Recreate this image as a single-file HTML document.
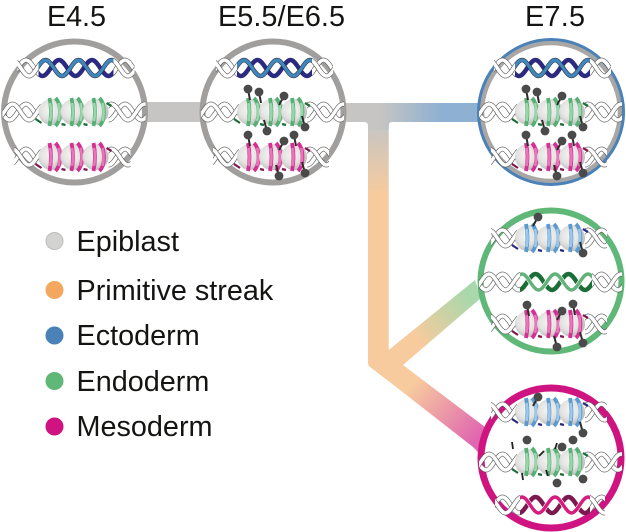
<!DOCTYPE html>
<html><head><meta charset="utf-8">
<style>
html,body{margin:0;padding:0;background:#fff;width:626px;height:532px;overflow:hidden}
svg{display:block}
text{font-family:"Liberation Sans",Arial,sans-serif;fill:#141412;font-size:28.8px}
.o{fill:none;stroke:#555;stroke-width:4.8}
.w{fill:none;stroke:#fff;stroke-width:3.6}
.wa{fill:none;stroke:var(--d);stroke-width:3.8}
.wb{fill:none;stroke:var(--l);stroke-width:2.6}
.lk{fill:none;stroke:var(--k);stroke-width:2.2}
</style></head><body>
<svg width="626" height="532" viewBox="0 0 626 532" xmlns="http://www.w3.org/2000/svg">
<defs>
<path id="hA" d="M-95,-8c6,0 10.5,16 16.5,16s10.5,-16 16.5,-16s10.5,16 16.5,16s10.5,-16 16.5,-16s10.5,16 16.5,16s10.5,-16 16.5,-16s10.5,16 16.5,16s10.5,-16 16.5,-16s10.5,16 16.5,16s10.5,-16 16.5,-16s10.5,16 16.5,16s10.5,-16 16.5,-16"/>
<path id="hB" d="M-98,8c6,0 10.5,-16 16.5,-16s10.5,16 16.5,16s10.5,-16 16.5,-16s10.5,16 16.5,16s10.5,-16 16.5,-16s10.5,16 16.5,16s10.5,-16 16.5,-16s10.5,16 16.5,16s10.5,-16 16.5,-16s10.5,16 16.5,16s10.5,-16 16.5,-16s10.5,16 16.5,16"/>
<g id="wh"><use href="#hB" class="o"/><use href="#hB" class="w"/><use href="#hA" class="o"/><use href="#hA" class="w"/></g>
<clipPath id="c1"><rect x="-57" y="-14" width="21" height="28"/><rect x="39" y="-14" width="21" height="28"/></clipPath>
<clipPath id="c2"><rect x="-72" y="-14" width="38" height="28"/><rect x="34" y="-14" width="37" height="28"/></clipPath>
<clipPath id="c3"><rect x="-60" y="-14" width="26" height="28"/><rect x="34" y="-14" width="22" height="28"/></clipPath>
<clipPath id="c4"><rect x="-72" y="-14" width="41" height="28"/><rect x="41" y="-14" width="30" height="28"/></clipPath>
<clipPath id="c5"><rect x="-56" y="-14" width="25" height="28"/><rect x="39" y="-14" width="15" height="28"/></clipPath>
<clipPath id="k1"><rect x="-36" y="-14" width="75" height="28"/></clipPath>
<clipPath id="k2"><rect x="-31" y="-14" width="72" height="28"/></clipPath>
<clipPath id="k3"><rect x="-31" y="-14" width="70" height="28"/></clipPath>
<g id="r2"><g clip-path="url(#c2)"><use href="#wh"/></g></g>
<g id="r3"><g clip-path="url(#c3)"><use href="#wh"/></g></g>
<g id="dBlue">
<g clip-path="url(#c1)"><use href="#wh"/></g>
<g clip-path="url(#k1)" fill="none"><use href="#hB" stroke="#2b2a80" stroke-width="4.4"/><use href="#hA" stroke="#27272f" stroke-width="4.4"/><use href="#hA" stroke="#3f87bd" stroke-width="3.4"/></g>
</g>
<g id="dGreen">
<g clip-path="url(#c4)"><use href="#wh"/></g>
<g clip-path="url(#k2)" fill="none"><use href="#hB" stroke="#1c6e38" stroke-width="4.4"/><use href="#hA" stroke="#fff" stroke-width="4.6"/><use href="#hA" stroke="#62b27a" stroke-width="3.4"/></g>
</g>
<g id="dPink">
<g clip-path="url(#c5)"><use href="#wh"/></g>
<g clip-path="url(#k3)" fill="none"><use href="#hB" stroke="#7c1a50" stroke-width="4.4"/><use href="#hA" stroke="#fff" stroke-width="4.6"/><use href="#hA" stroke="#d81b7f" stroke-width="3.4"/></g>
</g>
<radialGradient id="bg" cx="42%" cy="42%" r="62%"><stop offset="0" stop-color="#f4f4f3"/><stop offset=".55" stop-color="#e3e3e1"/><stop offset="1" stop-color="#b9b9b7"/></radialGradient>
<circle id="ball" r="13" fill="url(#bg)"/>
<g id="wr">
<path class="wa" d="M-2,-14Q1,0 -2,14M4,-14C10,-8 10,8 4,14"/>
<path class="wb" d="M-1.5,-9Q0.5,0 -1.5,9M7,-9C8.4,-5 8.4,5 7,9"/>
</g>
<g id="nuc">
<path class="lk" d="M-39,7L-33,11M-13,12L-9,13M9,12L13,13M32,-9L37,-6"/>
<use href="#ball" x="-23"/><use href="#wr" x="-23"/>
<use href="#ball" x="-1"/><use href="#wr" x="-1"/>
<use href="#ball" x="21"/><use href="#wr" x="21"/>
</g>
<g id="nG" style="--d:#55b074;--l:#98d6ac;--k:#1c6e38"><use href="#nuc"/></g>
<g id="nP" style="--d:#d62f93;--l:#ec74b8;--k:#7c1a50"><use href="#nuc"/></g>
<g id="nB" style="--d:#5a9ad0;--l:#9cc8ea;--k:#2b2a80"><use href="#nuc"/></g>
<g id="mD"><path d="M0,0L2,11" stroke="#2c2c2c" stroke-width="2"/><circle r="4.4" fill="#4b4a4a"/></g>
<g id="mU"><path d="M0,0L-3,-11" stroke="#2c2c2c" stroke-width="2"/><circle r="4.4" fill="#4b4a4a"/></g>
<g id="mL"><path d="M0,0L-5,9" stroke="#2c2c2c" stroke-width="2"/><circle r="4.4" fill="#4b4a4a"/></g>
<g id="mS"><circle r="4.4" fill="#4b4a4a"/></g>
<g id="mk">
<use href="#mD" x="-25" y="-23"/><use href="#mD" x="-14" y="-20"/><use href="#mL" x="11" y="-16"/>
<use href="#mU" x="-6" y="19"/><use href="#mU" x="32" y="15"/>
<use href="#mD" x="-25" y="23"/><use href="#mD" x="21" y="23"/><use href="#mL" x="11" y="29"/>
<use href="#mU" x="6" y="64"/><use href="#mU" x="32" y="61"/>
</g>
<linearGradient id="g1" gradientUnits="userSpaceOnUse" x1="380" y1="0" x2="442" y2="0"><stop offset="0" stop-color="#c6c5c3"/><stop offset="1" stop-color="#8db0d3"/></linearGradient>
<linearGradient id="g2" gradientUnits="userSpaceOnUse" x1="0" y1="125" x2="0" y2="195"><stop offset="0" stop-color="#c6c5c3"/><stop offset="1" stop-color="#f7cb9d"/></linearGradient>
<linearGradient id="g3" gradientUnits="userSpaceOnUse" x1="415" y1="335" x2="468" y2="295"><stop offset="0" stop-color="#f7cb9d"/><stop offset="1" stop-color="#a8d8ab"/></linearGradient>
<linearGradient id="g4" gradientUnits="userSpaceOnUse" x1="412" y1="385" x2="478" y2="438"><stop offset="0" stop-color="#f7cb9d"/><stop offset="1" stop-color="#e066b0"/></linearGradient>
</defs>

<rect x="140" y="102" width="64" height="20" fill="#c6c5c3"/>
<path d="M388.7,350L475,280L481,298L403,365L395,370Z" fill="url(#g3)"/>
<path d="M368,365L403,365L485,427L478,452L473,447Z" fill="url(#g4)"/>
<path d="M368,120H388.7V350L403,365V392L370,367Q368,365 368,363Z" fill="url(#g2)"/>
<path d="M342,103H482V122H392Q388.7,122 388.7,126V130H368V126Q368,122 364,122H342Z" fill="url(#g1)"/>

<text x="47" y="26" textLength="59">E4.5</text>
<text x="218" y="26" textLength="127">E5.5/E6.5</text>
<text x="525" y="26" textLength="60">E7.5</text>

<g transform="translate(74.5,112)">
<circle r="70.5" fill="#fff" stroke="#a19f9e" stroke-width="6"/>
<use href="#dBlue" y="-44"/><use href="#r2"/><use href="#nG"/><use href="#r3" y="45"/><use href="#nP" y="45"/>
</g>
<g transform="translate(273,112)">
<circle r="70.5" fill="#fff" stroke="#a19f9e" stroke-width="6"/>
<use href="#dBlue" y="-44"/><use href="#r2"/><use href="#nG"/><use href="#r3" y="45"/><use href="#nP" y="45"/><use href="#mk"/>
</g>
<g transform="translate(551,112)">
<circle r="69" fill="#fff" stroke="#a9a7a6" stroke-width="4.5"/>
<circle r="72.5" fill="none" stroke="#4a82b8" stroke-width="3"/>
<use href="#dBlue" y="-44"/><use href="#r2"/><use href="#nG"/><use href="#r3" y="45"/><use href="#nP" y="45"/><use href="#mk"/>
</g>
<g transform="translate(551,281)">
<circle r="70.5" fill="#fff" stroke="#5fb878" stroke-width="6"/>
<use href="#r3" y="-43"/><use href="#nB" y="-43"/><use href="#dGreen" y="1"/><use href="#r3" y="43"/><use href="#nP" y="43"/>
<use href="#mL" x="-13" y="-64"/><use href="#mU" x="32" y="-28"/>
<use href="#mD" x="-24" y="24"/><use href="#mD" x="22" y="23"/><use href="#mL" x="11" y="30"/><use href="#mU" x="6" y="66"/><use href="#mU" x="32" y="62"/>
</g>
<g transform="translate(551,458)">
<circle r="70" fill="#fff" stroke="#cf1482" stroke-width="7"/>
<use href="#r3" y="-46"/><use href="#nB" y="-46"/><use href="#r2" y="4"/><use href="#nG" y="4"/><use href="#dPink" y="47"/>
<use href="#mL" x="-13" y="-61"/><use href="#mU" x="32" y="-25"/>
<use href="#mS" x="-24" y="-18"/><use href="#mS" x="22" y="-18"/><use href="#mS" x="11" y="-11"/><use href="#mS" x="6" y="25"/><use href="#mS" x="32" y="21"/>
<path d="M-39,-16L-38,-9M-29,15L-28,22M-7,-7L-12,-2M6,-15L4,-9M-5,12L-3,18" stroke="#222" stroke-width="1.8" fill="none"/>
</g>

<circle cx="54.5" cy="241" r="8.5" fill="#d3d3d1" stroke="#bdbdbb" stroke-width="1"/>
<circle cx="54.5" cy="290" r="9" fill="#f4a75e"/>
<circle cx="54.5" cy="335.5" r="9" fill="#4a82b8"/>
<circle cx="54.5" cy="381" r="9" fill="#5fb878"/>
<circle cx="54.5" cy="426.5" r="9" fill="#cf1482"/>
<text x="76.5" y="251">Epiblast</text>
<text x="76.5" y="300">Primitive streak</text>
<text x="76.5" y="345">Ectoderm</text>
<text x="76.5" y="391">Endoderm</text>
<text x="76.5" y="436">Mesoderm</text>
</svg>
</body></html>
